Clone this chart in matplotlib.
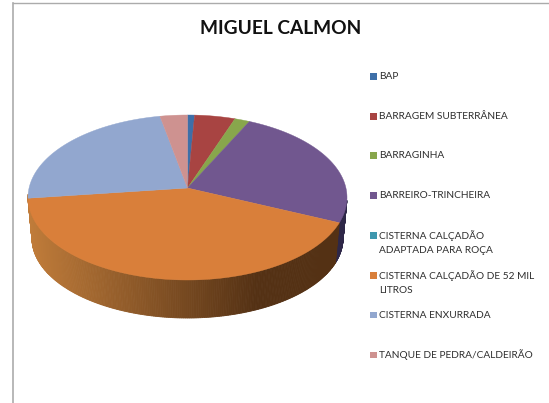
import numpy as np
import matplotlib
matplotlib.use("Agg")
import matplotlib.pyplot as plt
from matplotlib.patches import Polygon, Rectangle
from matplotlib.colors import to_rgb

title = "MIGUEL CALMON"
categories = ["BAP", "BARRAGEM SUBTERRÂNEA", "BARRAGINHA", "BARREIRO-TRINCHEIRA",
              "CISTERNA CALÇADÃO\nADAPTADA PARA ROÇA", "CISTERNA CALÇADÃO DE 52 MIL\nLITROS",
              "CISTERNA ENXURRADA", "TANQUE DE PEDRA/CALDEIRÃO"]
values = [0.8, 4.6, 1.7, 24.6, 0.0, 41.4, 23.9, 3.1]
colors = ["#3E6FA8", "#A84442", "#88A64C", "#71578F", "#3E97AE", "#D97F3A", "#92A7CF", "#CE9290"]
legend_y = [76.5, 116.5, 155.5, 195.5, 235.5, 275.5, 315, 355]

W, H = 549, 403
fig = plt.figure(figsize=(W / 100, H / 100), dpi=100, facecolor="white")
ax = fig.add_axes([0, 0, 1, 1])
ax.set_xlim(0, W)
ax.set_ylim(H, 0)
ax.axis("off")
FONT = ["Lato", "DejaVu Sans"]

# disc geometry
CX, CY, RX, RY = 187.5, 197.5, 159.5, 82.5
BCX, BCY, BRX, BRY = 187.5, 238.5, 155.5, 79.5
PERSP = -0.115
scale = np.sqrt(1 - PERSP ** 2)


def rim(theta, cx=CX, cy=CY, rx=RX, ry=RY, r=1.0):
    """theta clockwise from top, radians; projective map of a disc to an ellipse."""
    x = r * np.sin(theta)
    y = -r * np.cos(theta)
    d = 1 + PERSP * y
    u = x * scale / d
    v = (y + PERSP) / d
    return cx + rx * u, cy + ry * v


edges = np.radians(np.concatenate([[0], np.cumsum(values)]) * 360 / sum(values))
ORANGE_L = np.array([192, 124, 58]) / 255
ORANGE_R = np.array([84, 49, 20]) / 255
PURPLE_WALL = to_rgb("#2E2748")

# side walls: the front of the rim, orange slice and the end of the purple one
for i, (a, b) in enumerate(zip(edges[:-1], edges[1:])):
    if i not in (3, 5, 6):
        continue
    th = np.linspace(a, b, 240)
    xt, yt = rim(th)
    xb, yb = rim(th, BCX, BCY, BRX, BRY)
    for j in range(len(th) - 1):
        if yt[j] < CY + (3 if i == 3 else -3) and yt[j + 1] < CY + (3 if i == 3 else -3):
            continue
        f = (xt[j] - (CX - RX)) / (2 * RX)
        if i == 3:
            col = PURPLE_WALL
        else:
            t = min(1, max(0, f / 0.72))
            col = ORANGE_L * (1 - t) + ORANGE_R * t
        ax.add_patch(Polygon([(xt[j], yt[j]), (xt[j + 1], yt[j + 1]), (xb[j + 1], yb[j + 1]), (xb[j], yb[j])],
                             closed=True, fc=col, ec=col, lw=0.6, zorder=2))

# top face
cx0, cy0 = rim(0.0, r=0.0)
for i, (a, b) in enumerate(zip(edges[:-1], edges[1:])):
    if b <= a:
        continue
    th = np.linspace(a, b, 200)
    x, y = rim(th)
    pts = np.vstack([[cx0, cy0], np.column_stack([x, y])])
    ax.add_patch(Polygon(pts, closed=True, fc=colors[i], ec=colors[i], lw=0.3, zorder=3))

# chart frame
ax.plot([12.5, 12.5], [2.5, H], color="#ABABAB", lw=1.2, zorder=1)
ax.plot([12.5, W], [2.5, 2.5], color="#ABABAB", lw=1.0, zorder=1)

ax.text(281, 28, title, ha="center", va="center", fontsize=13.8, fontweight="bold",
        family=FONT, color="#111111", zorder=5)

for cat, col, ly in zip(categories, colors, legend_y):
    ax.add_patch(Rectangle((370, ly - 3.5), 6.5, 6.5, fc=col, ec="none", zorder=5))
    for k, line in enumerate(cat.split("\n")):
        ax.text(379, ly + k * 15.3, line, ha="left", va="center", fontsize=7.3,
                family=FONT, color="#2E2E2E", zorder=5)

fig.savefig("out.png", dpi=100, facecolor="white")
